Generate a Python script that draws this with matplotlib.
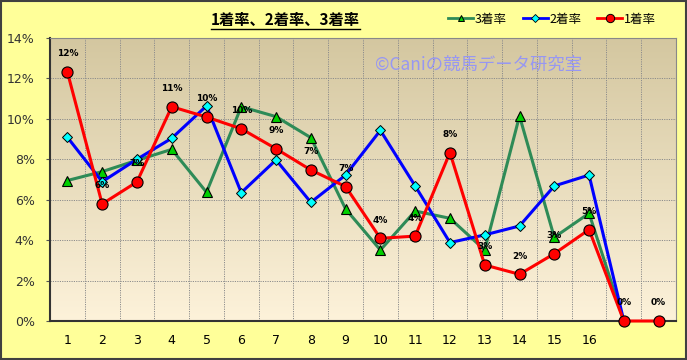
import matplotlib
matplotlib.use("Agg")
import matplotlib.pyplot as plt
import numpy as np
from matplotlib.lines import Line2D

plt.rcParams['font.family'] = ['Noto Sans CJK JP', 'DejaVu Sans']

categories = list(range(1, 19))
tick_labels = [str(i) for i in range(1, 17)] + ["", ""]
rate1 = [12.32, 5.79, 6.88, 10.6, 10.09, 9.51, 8.52, 7.47, 6.65, 4.09, 4.2, 8.33, 2.77, 2.31, 3.33, 4.52, 0.0, 0.0]
rate2 = [9.09, 6.89, 8.0, 9.04, 10.64, 6.35, 7.97, 5.87, 7.22, 9.43, 6.68, 3.88, 4.26, 4.7, 6.68, 7.22, 0.0]
rate3 = [6.95, 7.39, 7.95, 8.49, 6.37, 10.6, 10.11, 9.07, 5.54, 3.51, 5.44, 5.08, 3.51, 10.14, 4.14, 5.33, 0.0]
title = "1着率、2着率、3着率"
watermark = "©Caniの競馬データ研究室"

fig = plt.figure(figsize=(6.87, 3.6), dpi=100, facecolor='#FFFF99')
ax = fig.add_axes([50/687, 39/360, 626/687, 283/360])

# gradient background
top = np.array([212, 199, 160]) / 255
bot = np.array([253, 242, 218]) / 255
t = np.linspace(0, 1, 256)[:, None]
grad = (top[None, :] * (1 - t) + bot[None, :] * t)[:, None, :]
ax.imshow(grad, extent=[0.5, 18.5, 0, 14], aspect='auto', origin='upper', zorder=0)

ax.set_xlim(0.5, 18.5)
ax.set_ylim(0, 14)
for x in np.arange(1.5, 18.5, 1):
    ax.axvline(x, color='#8c8c8c', lw=0.7, ls=(0, (1.2, 1.2)), zorder=1)
for y in range(2, 14, 2):
    ax.axhline(y, color='#8c8c8c', lw=0.7, ls=(0, (1.2, 1.2)), zorder=1)

x3 = categories[:len(rate3)]
x2 = categories[:len(rate2)]
ax.plot(x3, rate3, color='#2E8B57', lw=2.2, marker='^', ms=7, mfc='#00D000', mec='black', mew=0.8, zorder=3, label='3着率')
ax.plot(x2, rate2, color='#0000FF', lw=2.2, marker='D', ms=5, mfc='#00FFFF', mec='black', mew=0.7, zorder=4, label='2着率')
ax.plot(categories, rate1, color='#FF0000', lw=2.2, marker='o', ms=8, mfc='#FF0000', mec='black', mew=0.8, zorder=5, label='1着率', clip_on=False)

for x, v in zip(categories, rate1):
    ax.annotate(f"{v:.0f}%", (x, v), xytext=(0, 13), textcoords='offset points',
                ha='center', va='center', fontsize=6.5, fontweight='bold', family='DejaVu Sans',
                color='black', zorder=6, annotation_clip=False)

ax.set_xticks(categories)
ax.set_xticklabels(tick_labels, fontsize=9, family='DejaVu Sans')
ax.set_yticks(range(0, 15, 2))
ax.set_yticklabels([f"{v}%" for v in range(0, 15, 2)], fontsize=9, family='DejaVu Sans', color='#333333')
ax.tick_params(axis='x', length=0, pad=9)
ax.tick_params(axis='y', length=3, pad=8, color='#555555')
for s in ['top', 'right']:
    ax.spines[s].set_color('#888888')
    ax.spines[s].set_linewidth(0.8)
for s in ['left', 'bottom']:
    ax.spines[s].set_color('#333333')
    ax.spines[s].set_linewidth(1.5)

ax.text(0.684, 0.905, watermark, transform=ax.transAxes, ha='center', va='center',
        fontsize=12.5, color='#9797F2', zorder=2)

tt = fig.text(285/687, 1 - 20/360, title, ha='center', va='center', fontsize=11, fontweight='bold', color='black')
fig.canvas.draw()
bb = tt.get_window_extent()
ul_y = bb.y0 - 1
fig.add_artist(Line2D([bb.x0/687, bb.x1/687], [ul_y/360, ul_y/360], color='black', lw=1.0,
                      transform=fig.transFigure))

handles = [
    Line2D([], [], color='#2E8B57', lw=2.0, marker='^', ms=5, mfc='#00D000', mec='black', mew=0.7),
    Line2D([], [], color='#0000FF', lw=2.0, marker='D', ms=4, mfc='#00FFFF', mec='black', mew=0.6),
    Line2D([], [], color='#FF0000', lw=2.0, marker='o', ms=6, mfc='#FF0000', mec='black', mew=0.7),
]
fig.legend(handles, ['3着率', '2着率', '1着率'], loc='center', bbox_to_anchor=(552/687, 1 - 19/360),
           ncol=3, frameon=False, fontsize=9, handlelength=2.0, handletextpad=0.1, columnspacing=1.3)

fig.add_artist(plt.Rectangle((0.001, 0.002), 0.997, 0.995, transform=fig.transFigure,
                             fill=False, edgecolor='#404040', lw=1.5))

fig.savefig('out.png', dpi=100, facecolor=fig.get_facecolor())
